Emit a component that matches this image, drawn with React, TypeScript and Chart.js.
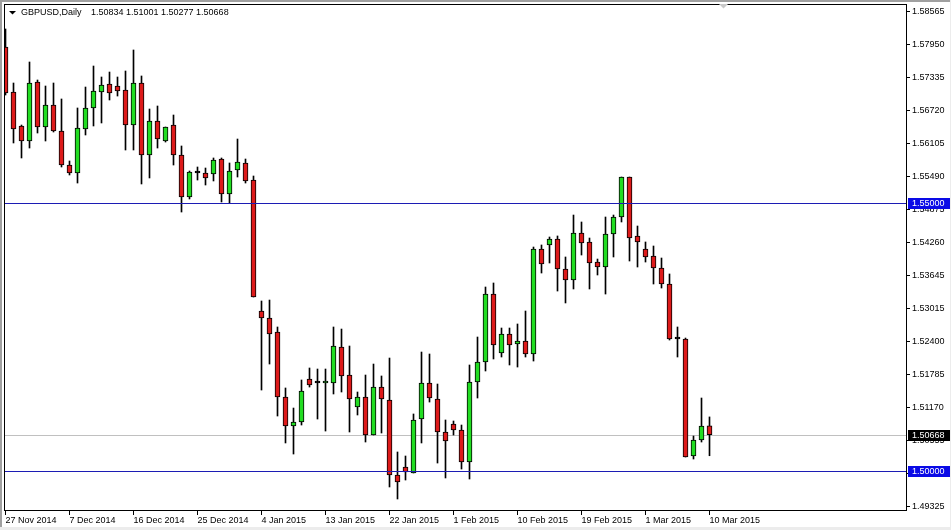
import React, { useEffect, useRef } from "react";
import { Chart, registerables } from "chart.js";

Chart.register(...registerables);

// ---------- data ----------
const symbolName = "GBPUSD,Daily";

const tickLabels = [
  "27 Nov 2014", "7 Dec 2014", "16 Dec 2014", "25 Dec 2014", "4 Jan 2015", "13 Jan 2015",
  "22 Jan 2015", "1 Feb 2015", "10 Feb 2015", "19 Feb 2015", "1 Mar 2015", "10 Mar 2015",
];

const priceTicks = [
  1.58565, 1.5795, 1.57335, 1.5672, 1.56105, 1.5549, 1.54875, 1.5426, 1.53645, 1.53015,
  1.524, 1.51785, 1.5117, 1.50555, 1.4994, 1.49325,
];

const levelLines = [1.55, 1.5];

const opens = [
  1.57903, 1.57063, 1.56429, 1.56149, 1.5725, 1.5641, 1.56821, 1.56335, 1.55701, 1.55552,
  1.56373, 1.56765, 1.57063, 1.57212, 1.57175, 1.571, 1.56447, 1.57231, 1.55888, 1.56522,
  1.56149, 1.56447, 1.55888, 1.55104, 1.55552, 1.55552, 1.55533, 1.55813, 1.5516, 1.55608,
  1.55739, 1.55421, 1.52977, 1.52847, 1.52585, 1.51373, 1.50832, 1.50906, 1.51709, 1.51634,
  1.51634, 1.51634, 1.52306, 1.51783, 1.51186, 1.51373, 1.50664, 1.51559, 1.51317, 1.49918,
  1.50067, 1.49955, 1.50962, 1.51634, 1.51335, 1.5072, 1.50869, 1.50757, 1.5016, 1.51653,
  1.52026, 1.53294, 1.52194, 1.52548, 1.52362, 1.52418, 1.52175, 1.54134, 1.54209, 1.54321,
  1.53761, 1.53556, 1.54432, 1.54265, 1.53891, 1.53798, 1.54414, 1.54731, 1.55477, 1.54377,
  1.54134, 1.54003, 1.53779, 1.53481, 1.52455, 1.52455, 1.50272, 1.5057, 1.50834,
];

const highs = [
  1.58239, 1.57231, 1.56447, 1.57623, 1.57287, 1.57175, 1.57231, 1.56933, 1.55776, 1.56765,
  1.57156, 1.57548, 1.57343, 1.57436, 1.57343, 1.57455, 1.57847, 1.57362, 1.56746, 1.56802,
  1.5641, 1.56634, 1.56056, 1.55589, 1.55664, 1.55645, 1.55832, 1.55832, 1.55739, 1.56186,
  1.55813, 1.55496, 1.53164, 1.53182, 1.52679, 1.51541, 1.51167, 1.5169, 1.51914, 1.51895,
  1.51895, 1.52679, 1.52641, 1.52324, 1.51466, 1.51783, 1.51988, 1.51765, 1.521, 1.50347,
  1.50272, 1.51056, 1.52212, 1.52175, 1.51615, 1.50944, 1.50925, 1.5085, 1.5197, 1.52492,
  1.53425, 1.535, 1.5266, 1.5266, 1.52735, 1.52977, 1.54171, 1.54209, 1.54358, 1.54377,
  1.53985, 1.54768, 1.54638, 1.54339, 1.53947, 1.54731, 1.54768, 1.55477, 1.55477, 1.54563,
  1.54265, 1.5419, 1.53966, 1.53668, 1.52679, 1.52473, 1.50645, 1.51354, 1.51001,
];

const lows = [
  1.57007, 1.56112, 1.55832, 1.56018, 1.56298, 1.56149, 1.56317, 1.55664, 1.55515, 1.55365,
  1.56261, 1.56429, 1.56485, 1.56914, 1.56988, 1.55981, 1.55981, 1.55347, 1.55459, 1.56018,
  1.5613, 1.55701, 1.54824, 1.55067, 1.55421, 1.55328, 1.55403, 1.55011, 1.54992, 1.55477,
  1.55365, 1.53238, 1.51503, 1.51988, 1.51018, 1.50515, 1.50309, 1.5085, 1.51559, 1.50962,
  1.50738, 1.51429, 1.51466, 1.5072, 1.51037, 1.50533, 1.50664, 1.50701, 1.49694, 1.4947,
  1.49824, 1.49955, 1.50515, 1.51279, 1.50141, 1.49862, 1.50664, 1.50029, 1.49843, 1.51354,
  1.51858, 1.52082, 1.52119, 1.5197, 1.51932, 1.52119, 1.52044, 1.53686, 1.53873, 1.5335,
  1.53127, 1.53388, 1.54022, 1.53388, 1.53649, 1.53294, 1.53985, 1.54638, 1.5391, 1.53798,
  1.53891, 1.53481, 1.53406, 1.52436, 1.52119, 1.50253, 1.50216, 1.50533, 1.50277,
];

const closes = [
  1.57044, 1.56373, 1.56149, 1.57231, 1.5641, 1.56821, 1.56335, 1.55701, 1.55552, 1.56391,
  1.56765, 1.57082, 1.57194, 1.57044, 1.57082, 1.56447, 1.57231, 1.55888, 1.56522, 1.56186,
  1.5641, 1.55888, 1.55104, 1.55571, 1.55552, 1.55459, 1.55794, 1.5516, 1.55589, 1.55757,
  1.55403, 1.53238, 1.52847, 1.52548, 1.51373, 1.50832, 1.50906, 1.51485, 1.51597, 1.51634,
  1.51671, 1.52324, 1.51765, 1.51335, 1.51373, 1.50664, 1.51559, 1.51335, 1.49918, 1.49787,
  1.49973, 1.50944, 1.51634, 1.51354, 1.5072, 1.50552, 1.50757, 1.5016, 1.51653, 1.52026,
  1.53294, 1.52343, 1.52548, 1.52343, 1.52418, 1.52175, 1.54134, 1.53854, 1.54321, 1.53761,
  1.53556, 1.54432, 1.54246, 1.53873, 1.53798, 1.54414, 1.54731, 1.55477, 1.54339, 1.54265,
  1.53985, 1.53779, 1.53481, 1.52455, 1.52455, 1.50253, 1.5057, 1.50832, 1.50668,
];

// ---------- styling ----------
const FONT_FAMILY = '"Liberation Sans", Arial, sans-serif';
const FONT_SIZE = 9;
const BULL = "#22dd22";
const BEAR = "#dd1a1a";
const LEVEL_COLOR = "#1c1cb4";
const LEVEL_BOX = "#0a0ae6";
const BID_COLOR = "#c0c0c0";
const BARS_PER_LABEL = 8;

const fmt = (v: number) => v.toFixed(5);

const mt4Plugin = {
  id: "mt4Decor",
  beforeDraw(chart: any) {
    const { ctx, width, height } = chart;
    ctx.save();
    ctx.fillStyle = "#ffffff";
    ctx.fillRect(0, 0, width, height);
    ctx.fillStyle = "#a0a0a0";
    ctx.fillRect(0, 0, width, 2);
    ctx.fillRect(0, 0, 2, height);
    ctx.fillStyle = "#ececec";
    ctx.fillRect(0, height - 3, width, 3);
    ctx.fillRect(width - 1, 0, 1, height);
    ctx.restore();
  },
  beforeDatasetsDraw(chart: any) {
    const { ctx, chartArea } = chart;
    const y = chart.scales.y;
    const bid = closes[closes.length - 1];
    const py = Math.round(y.getPixelForValue(bid));
    ctx.save();
    ctx.fillStyle = BID_COLOR;
    ctx.fillRect(chartArea.left, py, chartArea.right - chartArea.left, 1);
    ctx.restore();
  },
  afterDatasetsDraw(chart: any) {
    const { ctx, chartArea } = chart;
    const y = chart.scales.y;
    ctx.save();
    ctx.fillStyle = LEVEL_COLOR;
    levelLines.forEach((lv) => {
      const py = Math.round(y.getPixelForValue(lv));
      ctx.fillRect(chartArea.left, py, chartArea.right - chartArea.left, 1);
    });
    ctx.strokeStyle = "#000000";
    ctx.lineWidth = 1;
    ctx.strokeRect(
      chartArea.left + 0.5,
      chartArea.top + 0.5,
      chartArea.right - chartArea.left - 1,
      chartArea.bottom - chartArea.top - 1
    );
    ctx.restore();
  },
  afterDraw(chart: any) {
    const { ctx, chartArea } = chart;
    const y = chart.scales.y;
    const font = `${FONT_SIZE}px ${FONT_FAMILY}`;
    ctx.save();
    ctx.font = font;
    ctx.textBaseline = "middle";
    ctx.textAlign = "left";
    const box = (value: number, bg: string) => {
      const py = Math.round(y.getPixelForValue(value));
      ctx.fillStyle = bg;
      ctx.fillRect(chartArea.right + 1, py - 5, 42, 11);
      ctx.fillStyle = "#ffffff";
      ctx.fillText(fmt(value), chartArea.right + 5, py + 0.5);
    };
    levelLines.forEach((lv) => box(lv, LEVEL_BOX));
    box(closes[closes.length - 1], "#000000");

    const last = closes.length - 1;
    ctx.fillStyle = "#000000";
    ctx.beginPath();
    ctx.moveTo(9, 11);
    ctx.lineTo(16, 11);
    ctx.lineTo(12.5, 14.5);
    ctx.closePath();
    ctx.fill();
    ctx.fillText(symbolName, 21, 13);
    ctx.fillText(
      [opens[last], highs[last], lows[last], closes[last]].map(fmt).join(" "),
      91,
      13
    );

    ctx.fillStyle = "#c8c8c8";
    ctx.beginPath();
    ctx.moveTo(719, 4);
    ctx.lineTo(728, 4);
    ctx.lineTo(723.5, 8.5);
    ctx.closePath();
    ctx.fill();
    ctx.restore();
  },
};

export default function App() {
  const canvasRef = useRef<HTMLCanvasElement | null>(null);

  useEffect(() => {
    document.body.style.margin = "0";
    const canvas = canvasRef.current;
    if (!canvas) return;

    const bodyData = opens.map((o, i) => ({ x: i, y: [o, closes[i]] }));
    const wickData = opens.map((_, i) => ({ x: i, y: [lows[i], highs[i]] }));
    const bodyColors = opens.map((o, i) =>
      closes[i] > o ? BULL : closes[i] < o ? BEAR : "#000000"
    );

    const tickFont = { family: FONT_FAMILY, size: FONT_SIZE };

    const chart = new Chart(canvas, {
      type: "bar",
      data: {
        datasets: [
          {
            label: "body",
            data: bodyData as any,
            backgroundColor: bodyColors,
            borderColor: "#000000",
            borderWidth: 1,
            borderSkipped: false,
            barThickness: 5,
            minBarLength: 2,
            grouped: false,
            order: 0,
          } as any,
          {
            label: "wick",
            data: wickData as any,
            backgroundColor: "#000000",
            borderWidth: 0,
            barThickness: 1,
            grouped: false,
            order: 1,
          } as any,
        ],
      },
      options: {
        responsive: false,
        animation: false,
        devicePixelRatio: 1,
        events: [],
        layout: { padding: { left: 4, top: 4, right: 0, bottom: 0 } },
        plugins: {
          legend: { display: false },
          tooltip: { enabled: false },
          title: { display: false },
        },
        scales: {
          x: {
            type: "linear",
            min: -0.1875,
            max: 112.6875,
            offset: false,
            afterBuildTicks: (s: any) => {
              s.ticks = tickLabels.map((_, k) => ({ value: k * BARS_PER_LABEL }));
            },
            afterFit: (s: any) => {
              s.height = 19;
              s.paddingLeft = 0;
              s.paddingRight = 0;
              s.paddingTop = 0;
              s.paddingBottom = 0;
            },
            grid: {
              offset: false,
              drawOnChartArea: false,
              drawTicks: true,
              tickLength: 4,
              color: "#000000",
              tickColor: "#000000",
            },
            border: { display: false },
            ticks: {
              autoSkip: false,
              maxRotation: 0,
              minRotation: 0,
              align: "start",
              padding: 0,
              color: "#000000",
              font: tickFont,
              callback: (v: any) => tickLabels[Math.round(Number(v) / BARS_PER_LABEL)] ?? "",
            },
          } as any,
          y: {
            type: "linear",
            position: "right",
            min: 1.49246,
            max: 1.58705,
            afterBuildTicks: (s: any) => {
              s.ticks = priceTicks.map((v) => ({ value: v }));
            },
            afterFit: (s: any) => {
              s.width = 44;
              s.paddingTop = 0;
              s.paddingBottom = 0;
              s.paddingLeft = 0;
              s.paddingRight = 0;
            },
            grid: {
              drawOnChartArea: false,
              drawTicks: true,
              tickLength: 3,
              color: "#000000",
              tickColor: "#000000",
            },
            border: { display: false },
            ticks: {
              padding: 2,
              crossAlign: "near",
              color: "#000000",
              font: { ...tickFont, lineHeight: 0.6 },
              callback: (v: any) => fmt(Number(v)),
            },
          } as any,
        },
      },
      plugins: [mt4Plugin],
    });

    return () => chart.destroy();
  }, []);

  return (
    <div style={{ width: 951, height: 530 }}>
      <canvas ref={canvasRef} width={951} height={530} style={{ display: "block" }} />
    </div>
  );
}
